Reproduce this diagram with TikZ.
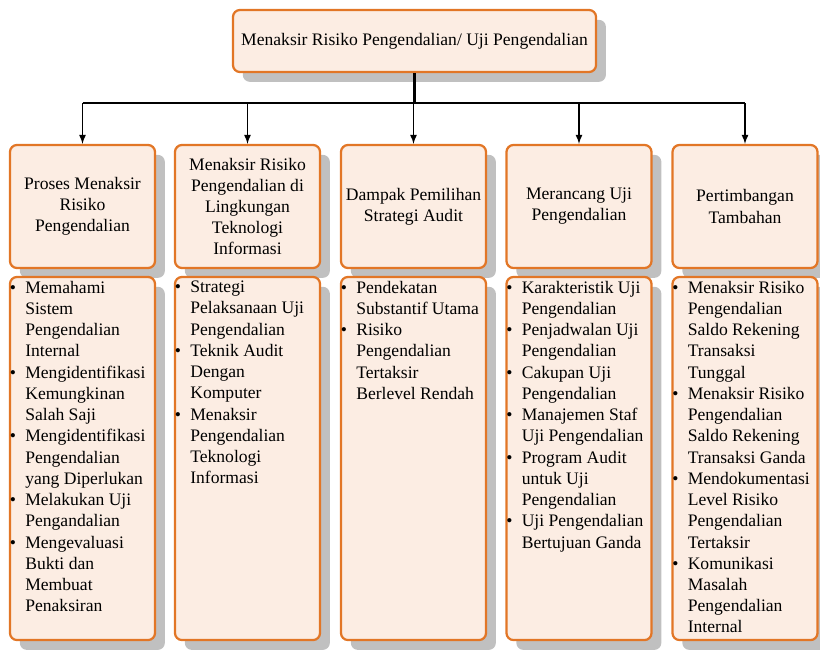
\documentclass[tikz,border=0pt]{standalone}
\usepackage{fontspec}
\setmainfont{Liberation Serif}
\usetikzlibrary{shapes,arrows,positioning,shadows}
\definecolor{boxfill}{RGB}{252,237,227}
\definecolor{boxline}{RGB}{226,118,38}
\definecolor{shade}{RGB}{192,192,192}
\newcommand{\bl}{\makebox[11pt][l]{\textbullet}}
\newcommand{\ct}{\hspace*{11pt}}
\tikzstyle{box} = [rectangle, rounded corners=5pt, draw=boxline, line width=1.6pt, fill=boxfill, drop shadow={shadow xshift=7pt, shadow yshift=-7pt, fill=shade, opacity=1}]
\tikzstyle{hbox} = [box, minimum width=3.625cm, minimum height=3.075cm, inner sep=0pt, align=center, font=\fontsize{12.5}{15}\selectfont]
\tikzstyle{lbox} = [box, minimum width=3.625cm, minimum height=9.075cm]
\tikzstyle{ltext} = [anchor=north west, align=left, inner xsep=0.5pt, inner ysep=3.5pt, font=\fontsize{12.5}{15.1}\selectfont]
\tikzstyle{line} = [draw, line width=1.2pt]
\tikzstyle{arrow} = [line, -latex]

\begin{document}
\begin{tikzpicture}[x=0.025cm, y=-0.025cm]
	\useasboundingbox (0,0) rectangle (820,650);

	\node [box, minimum width=9.075cm, minimum height=1.55cm, font=\fontsize{12.5}{15}\selectfont] (top) at (414.5, 41) {Menaksir Risiko Pengendalian/ Uji Pengendalian};

	\node [hbox] (h1) at (82.5, 206.5) {Proses Menaksir\\Risiko\\Pengendalian};
	\node [hbox] (h2) at (247.5, 206.5) {Menaksir Risiko\\Pengendalian di\\Lingkungan\\Teknologi\\Informasi};
	\node [hbox] (h3) at (413.5, 206.5) {Dampak Pemilihan\\Strategi Audit};
	\node [hbox] (h4) at (579, 206.5) {Merancang Uji\\Pengendalian};
	\node [hbox] (h5) at (745, 206.5) {Pertimbangan\\Tambahan};

	\node [lbox] (l1) at (82.5, 458.5) {};
	\node [lbox] (l2) at (247.5, 458.5) {};
	\node [lbox] (l3) at (413.5, 458.5) {};
	\node [lbox] (l4) at (579, 458.5) {};
	\node [lbox] (l5) at (745, 458.5) {};

	\node [ltext] (t1) at (l1.north west) {\bl Memahami\\\ct Sistem\\\ct Pengendalian\\\ct Internal\\
		\bl Mengidentifikasi\\\ct Kemungkinan\\\ct Salah Saji\\
		\bl Mengidentifikasi\\\ct Pengendalian\\\ct yang Diperlukan\\
		\bl Melakukan Uji\\\ct Pengandalian\\
		\bl Mengevaluasi\\\ct Bukti dan\\\ct Membuat\\\ct Penaksiran};
	\node [ltext] (t2) at (l2.north west) {\bl Strategi\\\ct Pelaksanaan Uji\\\ct Pengendalian\\
		\bl Teknik Audit\\\ct Dengan\\\ct Komputer\\
		\bl Menaksir\\\ct Pengendalian\\\ct Teknologi\\\ct Informasi};
	\node [ltext] (t3) at (l3.north west) {\bl Pendekatan\\\ct Substantif Utama\\
		\bl Risiko\\\ct Pengendalian\\\ct Tertaksir\\\ct Berlevel Rendah};
	\node [ltext] (t4) at (l4.north west) {\bl Karakteristik Uji\\\ct Pengendalian\\
		\bl Penjadwalan Uji\\\ct Pengendalian\\
		\bl Cakupan Uji\\\ct Pengendalian\\
		\bl Manajemen Staf\\\ct Uji Pengendalian\\
		\bl Program Audit\\\ct untuk Uji\\\ct Pengendalian\\
		\bl Uji Pengendalian\\\ct Bertujuan Ganda};
	\node [ltext] (t5) at (l5.north west) {\bl Menaksir Risiko\\\ct Pengendalian\\\ct Saldo Rekening\\\ct Transaksi\\\ct Tunggal\\
		\bl Menaksir Risiko\\\ct Pengendalian\\\ct Saldo Rekening\\\ct Transaksi Ganda\\
		\bl Mendokumentasi\\\ct Level Risiko\\\ct Pengendalian\\\ct Tertaksir\\
		\bl Komunikasi\\\ct Masalah\\\ct Pengendalian\\\ct Internal};

	\coordinate (hub) at (414.5, 103);
	\foreach \i in {1,...,5}
		\coordinate (j\i) at (h\i.north |- hub);

	\path [line, line width=1.8pt] (top) -- (hub);
	\path [line] (j1) -- (j5);
	\foreach \i in {1,...,5}
		\path [arrow] (j\i) -- (h\i);
\end{tikzpicture}
\end{document}
